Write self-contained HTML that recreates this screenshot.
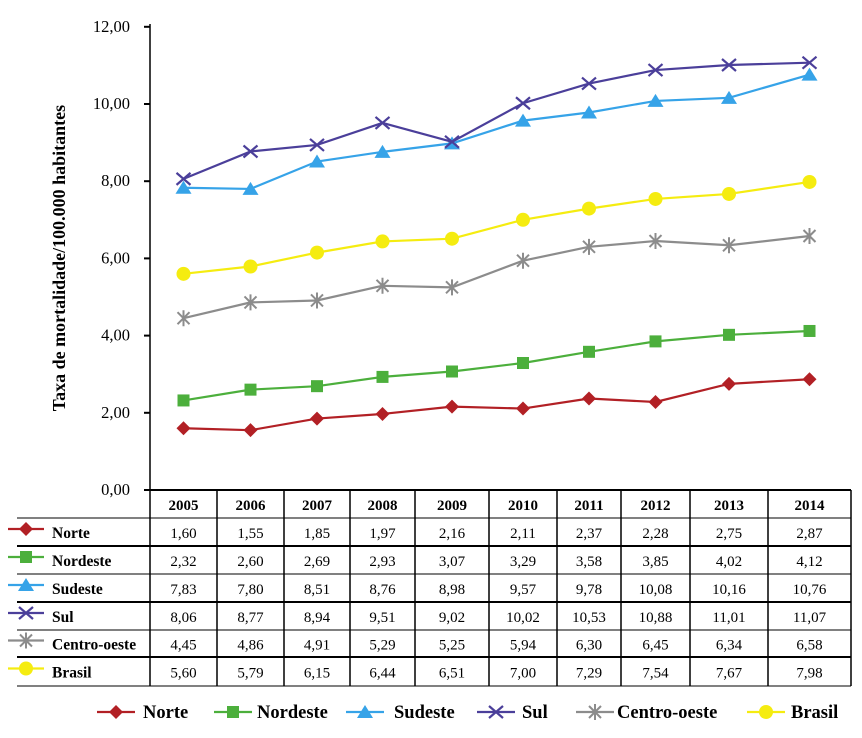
<!DOCTYPE html>
<html><head><meta charset="utf-8"><style>
body{margin:0;background:#fff;}
svg text{font-family:"Liberation Serif",serif;}
</style></head><body>
<svg id="c" width="862" height="733" xmlns="http://www.w3.org/2000/svg">
<text x="0" y="0" transform="translate(65,258) rotate(-90)" text-anchor="middle" font-size="18" font-weight="bold">Taxa de mortalidade/100.000 habitantes</text>
</svg>
<script>
const years=["2005","2006","2007","2008","2009","2010","2011","2012","2013","2014"];
const names=["Norte","Nordeste","Sudeste","Sul","Centro-oeste","Brasil"];
const norte=[1.60,1.55,1.85,1.97,2.16,2.11,2.37,2.28,2.75,2.87];
const nordeste=[2.32,2.60,2.69,2.93,3.07,3.29,3.58,3.85,4.02,4.12];
const sudeste=[7.83,7.80,8.51,8.76,8.98,9.57,9.78,10.08,10.16,10.76];
const sul=[8.06,8.77,8.94,9.51,9.02,10.02,10.53,10.88,11.01,11.07];
const centro=[4.45,4.86,4.91,5.29,5.25,5.94,6.30,6.45,6.34,6.58];
const brasil=[5.60,5.79,6.15,6.44,6.51,7.00,7.29,7.54,7.67,7.98];
const yTicks=[0,2,4,6,8,10,12];

const series=[norte,nordeste,sudeste,sul,centro,brasil];
const colors=["#b22025","#4caf3c","#36a3e8","#4b3f9a","#8c8c8c","#f5ec10"];
const NS="http://www.w3.org/2000/svg";
const svg=document.getElementById('c');
const bounds=[150,217,284,350,415,489,557,621,690,768,851];
const Y=v=>490-v*38.6;
const X=i=>(bounds[i]+bounds[i+1])/2;
function mk(t,a,p){const e=document.createElementNS(NS,t);for(const k in a)e.setAttribute(k,a[k]);(p||svg).appendChild(e);return e;}
const fmt=v=>v.toFixed(2).replace('.',',');
let ax=mk('line',{x1:150,y1:24,x2:150,y2:490,stroke:'#000','stroke-width':1.5});


yTicks.forEach(t=>{
 const l=mk('line',{x1:144,x2:150,y1:Y(t),y2:Y(t),stroke:'#000','stroke-width':2});
 
 
 const tx=mk('text',{x:130,y:Y(t)+5,'text-anchor':'end','font-size':16.5});
 tx.textContent=fmt(t);
 
 
});
function marker(k,x,y,g,s){
 const c=colors[k];s=s||1;
 if(k==0) mk('polygon',{points:`${x},${y-7*s} ${x+7*s},${y} ${x},${y+7*s} ${x-7*s},${y}`,fill:c},g);
 else if(k==1) mk('rect',{x:x-6*s,y:y-6*s,width:12*s,height:12*s,fill:c},g);
 else if(k==2) mk('polygon',{points:`${x},${y-7*s} ${x+8*s},${y+6*s} ${x-8*s},${y+6*s}`,fill:c},g);
 else if(k==3){mk('path',{d:`M${x-7*s} ${y-6*s}L${x+7*s} ${y+6*s}M${x+7*s} ${y-6*s}L${x-7*s} ${y+6*s}`,stroke:c,'stroke-width':2.2,fill:'none'},g);}
 else if(k==4){mk('path',{d:`M${x-6*s} ${y-6*s}L${x+6*s} ${y+6*s}M${x+6*s} ${y-6*s}L${x-6*s} ${y+6*s}M${x} ${y-8*s}L${x} ${y+8*s}`,stroke:c,'stroke-width':2,fill:'none'},g);}
 else mk('circle',{cx:x,cy:y,r:7*s,fill:c},g);
}
series.forEach((d,k)=>{
 const g=mk('g',{});
 
 
 mk('polyline',{points:d.map((v,i)=>X(i)+','+Y(v)).join(' '),fill:'none',stroke:colors[k],'stroke-width':2.2},g);
 d.forEach((v,i)=>marker(k,X(i),Y(v),g));
});
const rows=[490,518,546,574,602,630,657,686];
const tg=mk('g',{});


mk('line',{x1:150,x2:851,y1:490,y2:490,stroke:'#000','stroke-width':2},tg);
for(let r=1;r<rows.length;r++) mk('line',{x1:17,x2:851,y1:rows[r],y2:rows[r],stroke:'#000','stroke-width':r%2?1:2},tg);
bounds.forEach(b=>mk('line',{x1:b,x2:b,y1:490,y2:686,stroke:'#000','stroke-width':1.5},tg));
years.forEach((y,i)=>{const t=mk('text',{x:X(i),y:510,'text-anchor':'middle','font-size':15,'font-weight':'bold'},tg);t.textContent=y;
 
 });
series.forEach((d,k)=>{
 const cy=(rows[k+1]+rows[k+2])/2;
 mk('line',{x1:8,x2:44,y1:cy-3,y2:cy-3,stroke:colors[k],'stroke-width':2.2},tg);
 marker(k,26,cy-3,tg);
 const n=mk('text',{x:52,y:cy+6,'font-size':15.5,'font-weight':'bold'},tg);n.textContent=names[k];
 
 
 d.forEach((v,i)=>{const t=mk('text',{x:X(i),y:cy+6,'text-anchor':'middle','font-size':15},tg);t.textContent=fmt(v);
  
  });
});
const lx=[97,214,346,477,576,747];
const lt=[143,257,394,522,617,791];
names.forEach((n,k)=>{
 const g=mk('g',{});
 
 
 mk('line',{x1:lx[k],x2:lx[k]+38,y1:712,y2:712,stroke:colors[k],'stroke-width':2.2},g);
 marker(k,lx[k]+19,712,g);
 const t=mk('text',{x:lt[k],y:718,'font-size':18.5,'font-weight':'bold'},g);t.textContent=n;
});
</script>
</body></html>
